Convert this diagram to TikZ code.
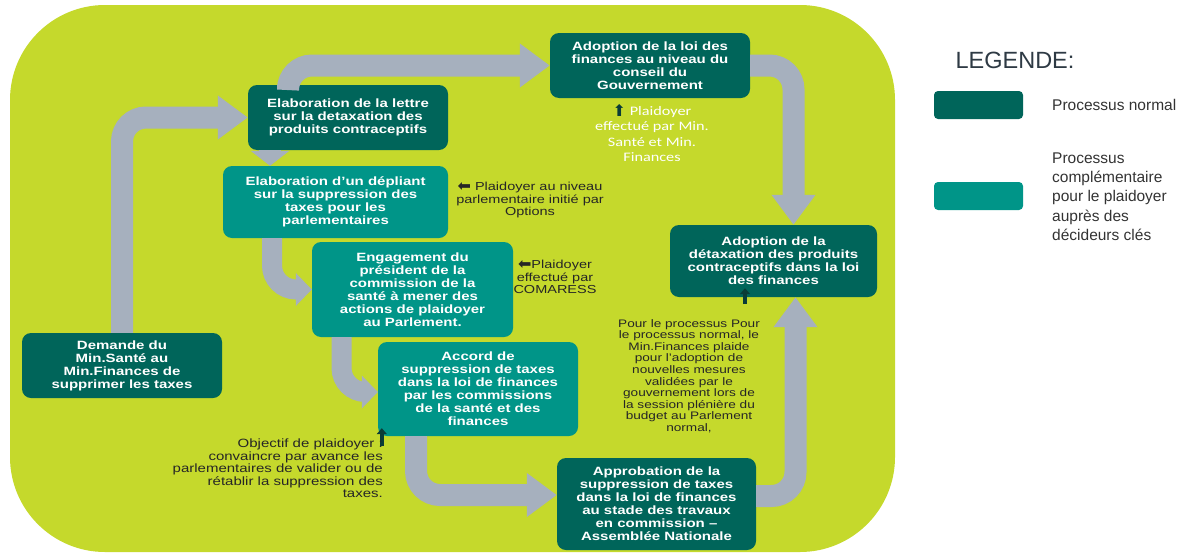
\documentclass[tikz,border=0pt]{standalone}
\usepackage{fontspec}
\setmainfont{Liberation Sans}
\newfontfamily\boxfont[FakeStretch=1.25]{Liberation Sans}
\newfontfamily\notefont[FakeStretch=1.25]{Carlito}
\newfontfamily\arrowfont{DejaVu Sans}
\usetikzlibrary{arrows.meta}
\definecolor{limebg}{RGB}{197,217,44}
\definecolor{darkteal}{RGB}{0,101,90}
\definecolor{midteal}{RGB}{0,149,136}
\definecolor{flowgray}{RGB}{166,176,190}
\definecolor{pindark}{RGB}{10,60,55}
\definecolor{legendtext}{RGB}{46,58,68}
\newcommand{\leftpin}{{\arrowfont\fontsize{16}{11}\selectfont\raisebox{-1pt}{⬅}}}
\newcommand{\uppin}{{\arrowfont\fontsize{16}{11}\selectfont\color{pindark}\raisebox{-1pt}{⬆}}}
\tikzset{
  normal/.style={rounded corners=9pt, fill=darkteal, text=white, align=center,
    inner sep=0pt, font=\boxfont\bfseries\fontsize{12}{13}\selectfont},
  compl/.style={normal, fill=midteal},
  flow/.style={draw=flowgray, line width=22pt, rounded corners=24pt,
    -{Triangle[length=30pt,width=42pt]}},
  smallflow/.style={flow, line width=20pt, -{Triangle[length=16pt,width=32pt]}},
  pin/.style={draw=pindark, line width=3.5pt, -{Triangle[length=6pt,width=10pt]}},
  note/.style={text=black!85, align=center, inner sep=0pt,
    font=\boxfont\fontsize{11.6}{12.5}\selectfont},
  legendbox/.style={rounded corners=4pt, minimum width=89pt, minimum height=28pt}
}
\begin{document}
\begin{tikzpicture}[x=1pt,y=-1pt]
  \useasboundingbox (0,0) rectangle (1190,554);
  \fill[limebg, rounded corners=95pt] (10,5) rectangle (895,552);

  \node[normal, minimum width=200pt, minimum height=65pt] (dem) at (122,365.5)
    {Demande du\\Min.Santé au\\Min.Finances de\\supprimer les taxes};
  \node[normal, minimum width=200pt, minimum height=65pt] (let) at (348,117.5)
    {Elaboration de la lettre\\sur la detaxation des\\produits contraceptifs};
  \node[compl, minimum width=225pt, minimum height=72pt] (dep) at (335.5,202)
    {Elaboration d’un dépliant\\sur la suppression des\\taxes pour les\\parlementaires};
  \node[compl, minimum width=201pt, minimum height=95pt] (eng) at (412.5,289.5)
    {Engagement du\\président de la\\commission de la\\santé à mener des\\actions de plaidoyer\\au Parlement.};
  \node[compl, minimum width=200pt, minimum height=94pt] (acc) at (478,389)
    {Accord de\\suppression de taxes\\dans la loi de finances\\par les commissions\\de la santé et des\\finances};
  \node[normal, minimum width=199pt, minimum height=92pt] (appr) at (656.5,504)
    {Approbation de la\\suppression de taxes\\dans la loi de finances\\au stade des travaux\\en commission –\\Assemblée Nationale};
  \node[normal, minimum width=200pt, minimum height=65pt] (adopt) at (650,65.5)
    {Adoption de la loi des\\finances au niveau du\\conseil du\\Gouvernement};
  \node[normal, minimum width=207pt, minimum height=72pt] (det) at (773.5,261)
    {Adoption de la\\détaxation des produits\\contraceptifs dans la loi\\des finances};

  \begin{scope}
    \draw[flow] (dem.north) |- (let.west);
    \draw[flow] ([xshift=-60pt]let.north) |- (adopt.west);
    \draw[flow] (adopt.east) -| ([xshift=20pt]det.north);
    \draw[flow, -{Triangle[length=15pt,width=38pt]}] ([xshift=-78pt]let.south) -- ([xshift=-65.5pt]dep.north);
    \draw[smallflow] ([xshift=-63.5pt]dep.south) |- (eng.west);
    \draw[smallflow] ([xshift=-71pt]eng.south) |- ([yshift=-3pt]acc.west);
    \draw[flow] ([xshift=-62pt]acc.south) |- ([yshift=9pt]appr.west);
    \draw[flow] ([yshift=8pt]appr.east) -| ([xshift=22pt]det.south);
  \end{scope}

  \draw[pin] ([xshift=-28.5pt,yshift=-7pt]det.south) -- ([xshift=-28.5pt,yshift=9pt]det.south);
  \draw[pin] ([xshift=4pt,yshift=-10pt]acc.south west) -- ([xshift=4pt,yshift=8pt]acc.south west);

  \node[note, text=white, font=\notefont\fontsize{13}{15.3}\selectfont] (n1) at (652,133)
    {\uppin\ Plaidoyer\\effectué par Min.\\Santé et Min.\\Finances};
  \node[note] (n2) at (530,200)
    {\leftpin\ Plaidoyer au niveau\\parlementaire initié par\\Options};
  \node[note] (n3) at (555,277)
    {\leftpin Plaidoyer\\effectué par\\COMARESS};
  \node[note, align=right, anchor=east, font=\boxfont\fontsize{12}{12.6}\selectfont] (n4) at (383,468.5)
    {Objectif de plaidoyer :\\convaincre par avance les\\parlementaires de valider ou de\\rétablir la suppression des\\taxes.};
  \node[note, font=\boxfont\fontsize{10.9}{11.6}\selectfont] (n5) at (689,376)
    {Pour le processus Pour\\le processus normal, le\\Min.Finances plaide\\pour l’adoption de\\nouvelles mesures\\validées par le\\gouvernement lors de\\la session plénière du\\budget au Parlement\\normal,};

  \node[text=legendtext, font=\fontsize{23.5}{28}\selectfont] (leg) at (1015,60) {LEGENDE:};
  \node[legendbox, fill=darkteal] (lgn) at (978.5,105) {};
  \node[legendbox, fill=midteal] (lgc) at (978.5,196) {};
  \node[anchor=west, inner sep=0pt, text=black!80, font=\fontsize{15.5}{19.3}\selectfont] (tn) at (1052,105)
    {Processus normal};
  \node[anchor=west, align=left, inner sep=0pt, text=black!80, font=\fontsize{15.5}{19.3}\selectfont] (tc) at (1052,196.5)
    {Processus\\complémentaire\\pour le plaidoyer\\auprès des\\décideurs clés};
\end{tikzpicture}
\end{document}
